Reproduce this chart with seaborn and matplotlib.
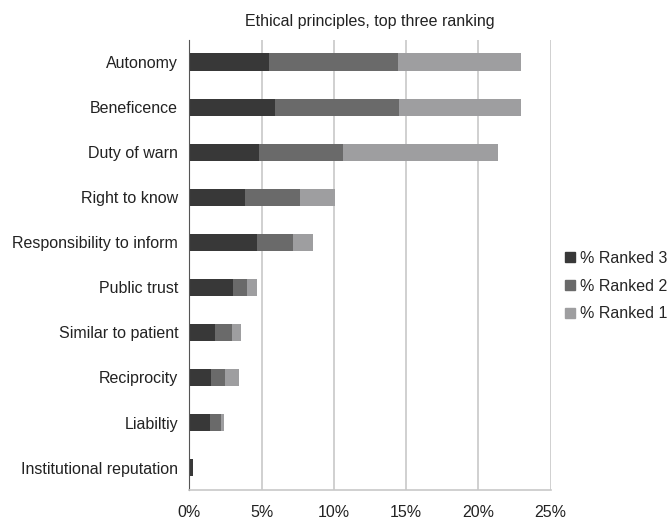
import pandas as pd
import seaborn as sns
import matplotlib.pyplot as plt
from matplotlib.patches import Patch
from matplotlib.ticker import PercentFormatter

categories = ["Autonomy", "Beneficence", "Duty of warn", "Right to know",
              "Responsibility to inform", "Public trust", "Similar to patient",
              "Reciprocity", "Liabiltiy", "Institutional reputation"]
ranked3 = [5.5, 5.95, 4.85, 3.85, 4.7, 3.0, 1.8, 1.5, 1.4, 0.25]
ranked2 = [8.95, 8.55, 5.8, 3.8, 2.45, 1.0, 1.15, 1.0, 0.8, 0.0]
ranked1 = [8.5, 8.45, 10.7, 2.4, 1.4, 0.7, 0.6, 0.95, 0.2, 0.0]

df = pd.DataFrame({"principle": categories, "r3": ranked3, "r2": ranked2, "r1": ranked1})
df["r32"] = df["r3"] + df["r2"]
df["total"] = df["r32"] + df["r1"]

c3, c2, c1 = "#383838", "#6a6a6a", "#9e9ea0"
fs = 11.5

sns.set_style("white")
plt.rcParams["font.family"] = ["Liberation Sans", "DejaVu Sans"]

fig = plt.figure(figsize=(6.68, 5.23), dpi=100)
ax = fig.add_axes([0.2834, 0.063, 0.541, 0.861])

# stacked bars: draw cumulative totals from the back
for col, c in [("total", c1), ("r32", c2), ("r3", c3)]:
    sns.barplot(data=df, y="principle", x=col, color=c, width=0.39,
                saturation=1, linewidth=0, ax=ax, orient="h")

ax.set_xlim(0, 25)
ax.set_ylim(len(categories) - 0.5, -0.5)
ax.set_xticks([0, 5, 10, 15, 20, 25])
ax.xaxis.set_major_formatter(PercentFormatter(decimals=0))
ax.grid(axis="x", color="#c8c8c8", linewidth=1.2)
ax.set_axisbelow(True)
ax.set_xlabel("")
ax.set_ylabel("")

for s in ["top", "right"]:
    ax.spines[s].set_visible(False)
ax.spines["left"].set_color("#555555")
ax.spines["bottom"].set_color("#c8c8c8")
ax.spines["bottom"].set_linewidth(1.2)

# y ticks between categories, labels at category centres
ax.set_yticks(range(len(categories)))
ax.set_yticklabels(categories)
ax.tick_params(axis="y", length=0, labelsize=fs, pad=8, labelcolor="#222222")
ax.set_yticks([i + 0.5 for i in range(-1, len(categories))], minor=True)
ax.tick_params(axis="y", which="minor", length=5, color="#aaaaaa", width=1)
ax.tick_params(axis="x", length=6, color="#aaaaaa", width=1.2, labelsize=fs,
               pad=5, labelcolor="#222222")

ax.set_title("Ethical principles, top three ranking", fontsize=fs, pad=10,
             color="#222222")

handles = [Patch(color=c3, label="% Ranked 3"),
           Patch(color=c2, label="% Ranked 2"),
           Patch(color=c1, label="% Ranked 1")]
fig.legend(handles=handles, loc="center left", bbox_to_anchor=(0.836, 0.453),
           frameon=False, fontsize=fs, handlelength=0.63, handleheight=0.63,
           handletextpad=0.3, labelspacing=0.8, borderaxespad=0)

plt.savefig("out.png", dpi=100)
